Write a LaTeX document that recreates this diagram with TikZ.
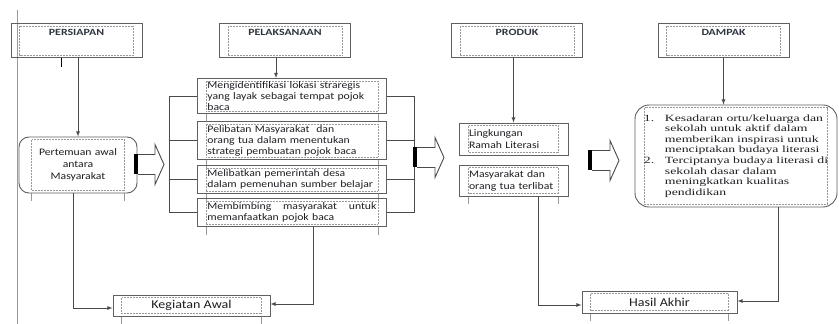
\documentclass[tikz,border=0pt]{standalone}
\usepackage{fontspec}
\usepackage{tikz}
\setmainfont{Carlito}
\newfontfamily\boxfont{Carlito}[FakeStretch=1.17]
\newfontfamily\titlefont{Carlito}[FakeStretch=1.25]
\newfontfamily\listfont{Liberation Serif}[FakeStretch=1.45]
\hyphenpenalty=10000
\exhyphenpenalty=10000
\definecolor{FontColor}{HTML}{1E1E24}
\definecolor{TitleColor}{HTML}{2E3440}
\definecolor{LineGray}{HTML}{4A4A4A}
\definecolor{FrameGray}{HTML}{606060}
\definecolor{DotGray}{HTML}{999999}
\newcommand\nodeper{PERSIAPAN}
\newcommand\nodepel{PELAKSANAAN}
\newcommand\nodeprod{PRODUK}
\newcommand\nodedamp{DAMPAK}
\newcommand\nodepa{Pertemuan awal\\antara\\Masyarakat}
\newcommand\nodeli{Mengidentifikasi lokasi straregis\\yang layak sebagai tempat pojok\\baca}
\newcommand\nodepm{Pelibatan Masyarakat\ \ dan\\orang tua dalam menentukan\\strategi pembuatan pojok baca}
\newcommand\nodepd{Melibatkan pemerintah desa\\dalam pemenuhan sumber belajar}
\newcommand\nodemm{Membimbing\hfill masyarakat\hfill untuk\\memanfaatkan pojok baca}
\newcommand\noderl{Lingkungan\\Ramah Literasi}
\newcommand\nodeot{Masyarakat dan\\orang tua terlibat}
\newcommand\nodeds{\begin{tabular}{@{}p{21pt}@{}l@{}}
1. & Kesadaran ortu/keluarga dan\\
   & sekolah untuk aktif dalam\\
   & memberikan inspirasi untuk\\
   & menciptakan budaya literasi\\
2. & Terciptanya budaya literasi di\\
   & sekolah dasar dalam\\
   & meningkatkan kualitas\\
   & pendidikan
\end{tabular}}
\newcommand\nodeka{Kegiatan Awal}
\newcommand\nodeha{Hasil Akhir}
\tikzstyle{mynodestyle} = [rectangle, draw=FrameGray, line width=0.9pt, text=FontColor, inner sep=0pt]
\tikzstyle{titlebox} = [mynodestyle, anchor=north, minimum width=131pt, text height=7pt, text depth=17pt, inner ysep=5pt, text=TitleColor, font=\titlefont\bfseries\fontsize{9.5}{11}\selectfont, dotframe]
\tikzstyle{stepbox} = [mynodestyle, anchor=north west, text width=169pt, inner xsep=10pt, align=left, font=\boxfont\fontsize{10}{11}\selectfont, dotframe, tails]
\tikzstyle{roundbox} = [mynodestyle, rounded corners=10pt, align=center, font=\boxfont\fontsize{10}{12}\selectfont]
\tikzstyle{endbox} = [mynodestyle, font=\boxfont\fontsize{12}{14}\selectfont, dotframe, tails]
\tikzstyle{link} = [draw=LineGray, line width=0.8pt]
\tikzset{>=latex, every picture/.style={line width=0.8pt}}
\tikzset{
  dotframe/.style={append after command={\pgfextra{\let\dotnode\tikzlastnode
      \draw[DotGray, line width=0.5pt, densely dotted, sharp corners]
        ([shift={(#1,-3pt)}]\dotnode.north west) rectangle ([shift={(-#1,3pt)}]\dotnode.south east);}}},
  dotframe/.default=9pt,
  tails/.style={append after command={\pgfextra{\let\dotnode\tikzlastnode
      \draw[DotGray, line width=0.5pt, sharp corners]
        ([xshift=#1]\dotnode.south west) -- ++(0,-8pt)
        ([xshift=-#1]\dotnode.south east) -- ++(0,-8pt);}}},
  tails/.default=9pt,
  bigarrow/.pic={
    \draw[LineGray, line width=0.9pt, fill=white] (4,10) -- (4+#1,10) -- (4+#1,20) -- (13+#1,0) -- (4+#1,-20) -- (4+#1,-10) -- (4,-10);
    \fill[black] (0,-10) rectangle (4,10);
  }
}

\begin{document}
\begin{tikzpicture}[x=1pt, y=1pt]
\useasboundingbox[fill=white] (0,0) rectangle (839,324);
\draw[DotGray, line width=0.6pt] (17,314) -- (17,0);
\node[titlebox] (per) at (76.5, 301) {\nodeper};
\node[titlebox] (pel) at (285, 301) {\nodepel};
\node[titlebox] (prod) at (517, 301) {\nodeprod};
\node[titlebox] (damp) at (723.5, 301) {\nodedamp};
\node[roundbox, minimum width=118pt, minimum height=56pt, text width=91pt, dotframe=13pt, tails=13pt] (pa) at (78, 159) {\nodepa};
\node[stepbox, minimum height=35pt] (li) at (197, 246) {\nodeli};
\node[stepbox, minimum height=38pt] (pm) at (197, 203) {\nodepm};
\node[stepbox, minimum height=28pt] (pd) at (197, 159) {\nodepd};
\node[stepbox, minimum height=28pt] (mm) at (197, 126) {\nodemm};
\node[mynodestyle, text width=89pt, inner xsep=10pt, minimum height=32pt, align=left, font=\boxfont\fontsize{10}{12}\selectfont, dotframe=10pt] (rl) at (513.5, 185) {\noderl};
\node[mynodestyle, text width=89pt, inner xsep=10pt, minimum height=31pt, align=left, font=\boxfont\fontsize{10}{12}\selectfont, dotframe=10pt, tails=10pt] (ot) at (513.5, 143.5) {\nodeot};
\node[mynodestyle, rounded corners=14pt, minimum width=202pt, minimum height=102pt, font=\listfont\fontsize{9.5}{10.6}\selectfont, dotframe=10pt] (ds) at (736, 168) {\nodeds};
\node[endbox, minimum width=157pt, minimum height=21pt] (ka) at (191.5, 18.5) {\nodeka};
\node[endbox, minimum width=155pt, minimum height=22pt] (ha) at (659.5, 22) {\nodeha};
\draw[thick] ([xshift=-15.5pt]per.south) -- ++(0,-9pt);
\draw[link, ->] (per.south -| pa.north) -- (pa.north);
\draw[link, ->] ([xshift=-9pt]pel.south) -- ([xshift=-9pt]pel.south |- li.north);
\draw[link, ->] (prod.south -| rl.north) -- (rl.north);
\draw[link, ->] (damp.south) -- (damp.south |- ds.north);
\draw[link] (li.west) -- ++(-28,0) |- (mm.west);
\draw[link] (pm.west) -- ++(-28,0);
\draw[link] (pd.west) -- ++(-28,0);
\draw[link] (li.east) -- ++(27,0) |- (mm.east);
\draw[link] (pm.east) -- ++(27,0);
\draw[link] (pd.east) -- ++(27,0);
\pic at (134, 159.5) {bigarrow=17};
\pic at (413, 166.5) {bigarrow=18};
\pic at (588, 163.5) {bigarrow=18};
\draw[link, ->] ([xshift=-5pt]pa.south) |- ([yshift=-2.5pt]ka.west);
\draw[link, ->] ([xshift=21.5pt]mm.south) |- ([yshift=1.5pt]ka.east);
\draw[link, ->] ([xshift=24.5pt]ot.south) |- ([yshift=-3pt]ha.west);
\draw[link, ->] ([xshift=42pt]ds.south) |- ([yshift=1pt]ha.east);
\end{tikzpicture}
\end{document}
